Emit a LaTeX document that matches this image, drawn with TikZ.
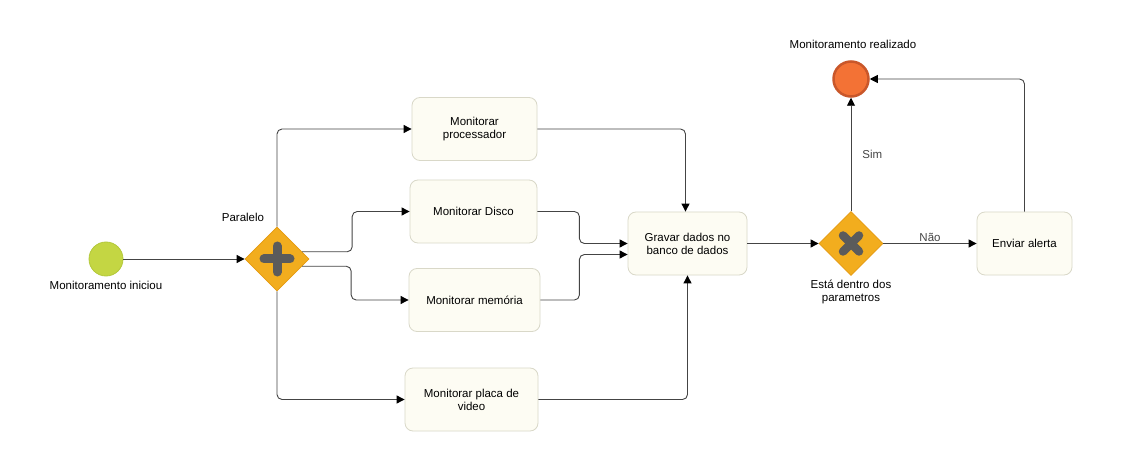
\documentclass[tikz,border=0pt]{standalone}
\usepackage{fontspec}
\setmainfont{Liberation Sans}
\usetikzlibrary{shapes.geometric,arrows.meta,calc}
\definecolor{taskfill}{HTML}{FDFCF3}
\definecolor{taskline}{HTML}{D9D8C8}
\definecolor{gwfill}{HTML}{F2AD1E}
\definecolor{gwline}{HTML}{E59A10}
\definecolor{gwmark}{HTML}{5B5B5B}
\definecolor{startfill}{HTML}{C4D643}
\definecolor{startline}{HTML}{B3C83A}
\definecolor{endfill}{HTML}{F37235}
\definecolor{endline}{HTML}{C9572A}
\definecolor{flow}{HTML}{444444}
\begin{document}
\begin{tikzpicture}[x=1pt,y=-1pt,
  every node/.style={font=\fontsize{11.5}{13}\selectfont},
  task/.style={draw=taskline,fill=taskfill,rounded corners=8pt,line width=0.8pt,align=center,inner sep=0pt},
  gateway/.style={diamond,draw=gwline,fill=gwfill,line width=0.8pt,minimum width=64pt,minimum height=64pt,inner sep=0pt,aspect=1},
  flowline/.style={draw=flow,line width=0.9pt,rounded corners=5pt,-{Triangle[length=8pt,width=8pt,fill=black,color=black]}},
  lbl/.style={text=black,align=center,inner sep=0pt},
  flbl/.style={text=flow,inner sep=0pt}]
\useasboundingbox (0,0) rectangle (1121,454);
\fill[white] (0,0) rectangle (1121,454);

% events
\node[circle,draw=startline,fill=startfill,line width=0.8pt,minimum size=34pt,inner sep=0pt] (start) at (106,259) {};
\node[circle,draw=endline,fill=endfill,line width=2.5pt,minimum size=35pt,inner sep=0pt] (endc) at (851,79) {};
\node[lbl] (startlbl) at (106,285) {Monitoramento iniciou};
\node[lbl] (endlbl) at (853,44) {Monitoramento realizado};

% gateways
\node[gateway] (par) at (277,259) {};
\draw[gwmark,line width=9pt,line cap=round] ($(par.center)+(-13,0)$) -- ($(par.center)+(13,0)$);
\draw[gwmark,line width=9pt,line cap=round] ($(par.center)+(0,-13)$) -- ($(par.center)+(0,13)$);
\node[lbl] (parlbl) at (243,217) {Paralelo};

\node[gateway] (xor) at (851,243.5) {};
\draw[gwmark,line width=8.5pt,line cap=round] ($(xor.center)+(-8,-8)$) -- ($(xor.center)+(8,8)$);
\draw[gwmark,line width=8.5pt,line cap=round] ($(xor.center)+(-8,8)$) -- ($(xor.center)+(8,-8)$);
\node[lbl] (xorlbl) at (851,292) {Está dentro dos\\parametros};

% tasks
\node[task,minimum width=125pt,minimum height=63pt] (proc) at (474.5,129) {Monitorar\\processador};
\node[task,minimum width=127pt,minimum height=63pt] (disco) at (473.5,211.5) {Monitorar Disco};
\node[task,minimum width=131pt,minimum height=63pt] (mem) at (474.5,300) {Monitorar memória};
\node[task,minimum width=133pt,minimum height=63pt] (placa) at (471.5,399.5) {Monitorar placa de\\video};
\node[task,minimum width=119pt,minimum height=63pt] (gravar) at (687.5,243.5) {Gravar dados no\\banco de dados};
\node[task,minimum width=95pt,minimum height=63pt] (enviar) at (1024.5,243.5) {Enviar alerta};

% flows
\draw[flowline] (start) -- (par.west);
\draw[flowline] (par.north) |- (proc.west);
\draw[flowline] (par.16) -- ++(50,0) |- (disco.west);
\draw[flowline] (par.-16) -- ++(49,0) |- (mem.west);
\draw[flowline] (par.south) |- (placa.west);
\draw[flowline] (proc.east) -| ($(gravar.north)+(-2,0)$);
\draw[flowline] (disco.east) -- ++(42,0) |- (gravar.west);
\draw[flowline] (mem.east) -- ++(39,0) |- ($(gravar.west)+(0,11)$);
\draw[flowline] (placa.east) -| (gravar.south);
\draw[flowline] (gravar.east) -- (xor.west);
\draw[flowline] (xor.north) -- node[flbl,right,xshift=11pt] (sim) {Sim} (endc.south);
\draw[flowline] (xor.east) -- node[flbl,above,yshift=1pt] (nao) {Não} (enviar.west);
\draw[flowline] (enviar.north) |- (endc.east);
\end{tikzpicture}
\end{document}
